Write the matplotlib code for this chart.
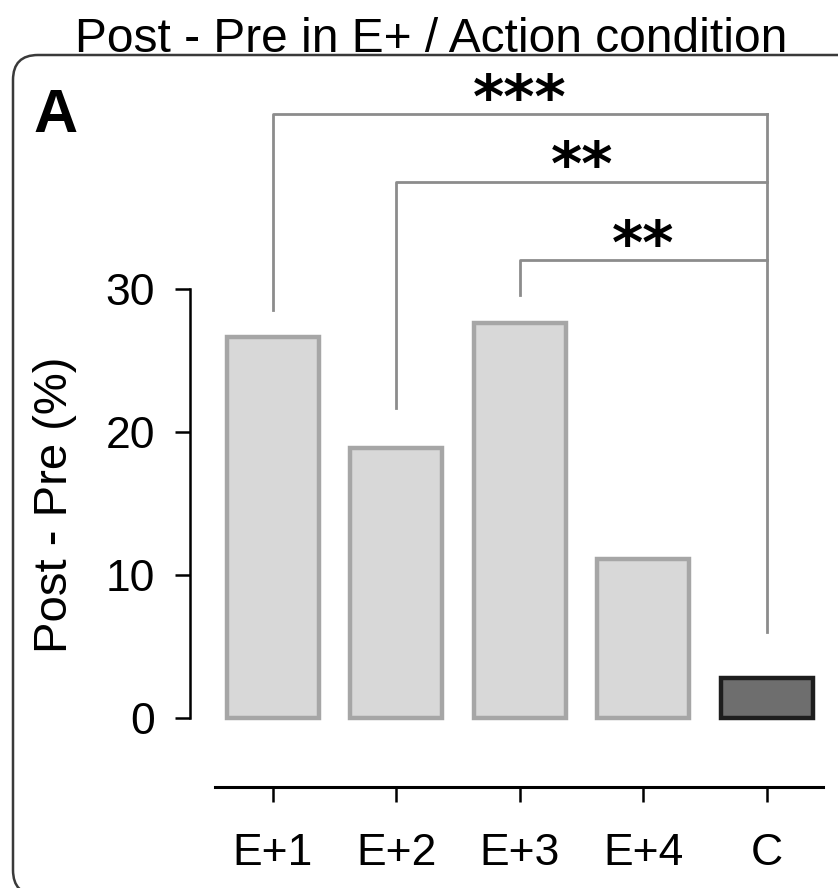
import matplotlib
matplotlib.use("Agg")
import matplotlib.pyplot as plt
from matplotlib.patches import FancyBboxPatch

plt.rcParams['font.family'] = ['Liberation Sans', 'DejaVu Sans']

# donnees
categories = ["E+1", "E+2", "E+3", "E+4", "C"]
values = [26.6, 18.9, 27.6, 11.1, 2.8]
yticks = [0, 10, 20, 30]

# comparaisons avec C : (indice gauche, hauteur du crochet, bas de la patte, etoiles)
comp_left = [0, 1, 2]
comp_height = [42.2, 37.5, 32.0]
comp_leg = [28.5, 21.7, 29.6]
comp_stars = ["***", "**", "**"]
c_leg_bottom = 6.0

W, H = 838, 888
fig = plt.figure(figsize=(W / 100, H / 100), dpi=100)

# cadre arrondi (le bord droit sort de l'image)
box = FancyBboxPatch((0.13, -0.07), 8.60, 8.40,
                     boxstyle="round,pad=0,rounding_size=0.25",
                     transform=fig.dpi_scale_trans, fill=False,
                     edgecolor="#3a3a3a", linewidth=1.8)
fig.patches.append(box)

fig.text(431 / W, 1 - 52 / H, "Post - Pre in E+ / Action condition",
         ha="center", va="baseline", fontsize=34.5)
fig.text(33 / W, 1 - 132 / H, "A", ha="left", va="baseline",
         fontsize=44, fontweight="bold")
fig.text(55 / W, 1 - 505 / H, "Post - Pre (%)", rotation=90,
         ha="center", va="center", fontsize=34)

ax = fig.add_axes([190 / W, 1 - 787 / H, 1 - 190 / W, (787 - 60) / H])
x = list(range(len(categories)))
colors = ["#d8d8d8"] * 4 + ["#6e6e6e"]
edges = ["#a6a6a6"] * 4 + ["#1e1e1e"]
ax.bar(x, values, width=0.745, color=colors, edgecolor=edges, linewidth=3.2)

ax.set_xlim(-0.672, 4.575)
ax.set_ylim(-4.83, 46.0)

for s in ["top", "right"]:
    ax.spines[s].set_visible(False)
ax.spines["left"].set_bounds(0, 30)
ax.spines["bottom"].set_bounds(-0.47, 4.45)
ax.spines["left"].set_linewidth(1.8)
ax.spines["bottom"].set_linewidth(2.2)

ax.set_yticks(yticks)
ax.set_xticks(x)
ax.set_xticklabels(categories)
ax.tick_params(axis="y", length=11, width=1.8, pad=14, labelsize=32)
ax.tick_params(axis="x", length=11, width=1.8, pad=22, labelsize=32)

# crochets de significativite
bc = "#8c8c8c"
ax.plot([4, 4], [c_leg_bottom, comp_height[0]], color=bc, lw=2, clip_on=False)
for i, h, leg, st in zip(comp_left, comp_height, comp_leg, comp_stars):
    ax.plot([i, i, 4], [leg, h, h], color=bc, lw=2, clip_on=False)
    ax.text((i + 4) / 2, h - 1.15, st, ha="center", va="bottom",
            fontsize=43, fontweight="bold", family="DejaVu Sans")

fig.savefig("out.png", dpi=100)
